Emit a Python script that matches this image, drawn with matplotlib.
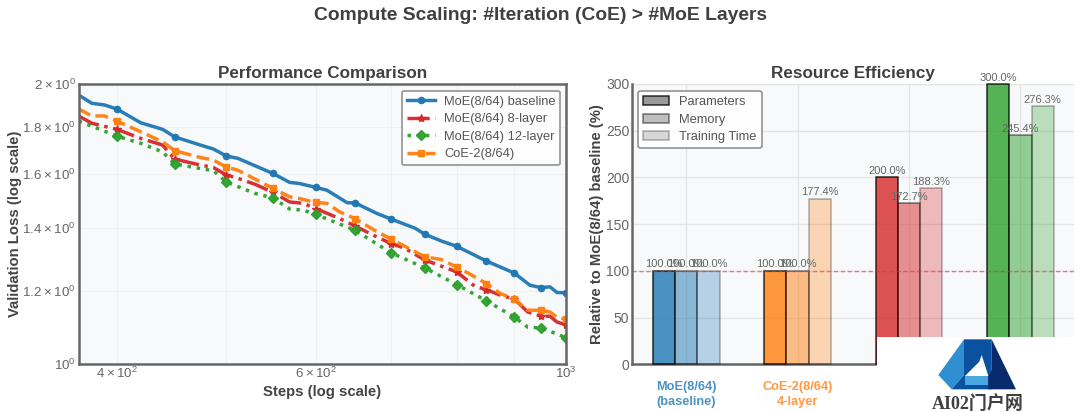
import matplotlib
matplotlib.use("Agg")
import matplotlib.pyplot as plt
from matplotlib.patches import Polygon, Rectangle, Patch
from matplotlib.ticker import NullLocator

# ---- data ----
steps_base = [370,380,390,400,420,439,450,474,487,500,512,550,569,580,600,614,640,650,680,700,735,750,776,800,850,900,929,950,968,982,1000]
loss_base = [1.946,1.907,1.899,1.880,1.817,1.788,1.755,1.720,1.703,1.674,1.664,1.603,1.568,1.564,1.549,1.538,1.491,1.491,1.452,1.432,1.400,1.379,1.356,1.339,1.291,1.253,1.216,1.209,1.211,1.194,1.194]
steps_8 = [370,380,400,420,439,450,474,487,500,512,530,550,569,585,600,630,650,680,700,720,750,800,830,850,875,900,925,950,968,982,1000]
loss_8 = [1.848,1.815,1.788,1.748,1.72,1.661,1.637,1.627,1.597,1.584,1.561,1.53,1.494,1.489,1.47,1.434,1.408,1.37,1.348,1.332,1.294,1.257,1.213,1.203,1.186,1.175,1.138,1.127,1.126,1.11,1.103]
steps_12 = [370,400,420,439,450,474,487,500,530,550,569,585,600,650,700,750,800,850,900,925,950,968,1000]
loss_12 = [1.825,1.758,1.727,1.691,1.641,1.623,1.614,1.57,1.526,1.509,1.468,1.464,1.449,1.393,1.317,1.269,1.218,1.17,1.124,1.096,1.094,1.085,1.068]
steps_coe = [370,380,390,400,420,439,450,474,487,500,512,550,569,580,600,614,630,650,680,700,750,775,800,820,850,875,900,925,950,968,982,1000]
loss_coe = [1.88,1.848,1.848,1.825,1.777,1.734,1.696,1.668,1.657,1.629,1.616,1.545,1.513,1.507,1.492,1.489,1.458,1.434,1.388,1.363,1.304,1.296,1.272,1.252,1.221,1.191,1.175,1.143,1.143,1.138,1.123,1.118]

models = ["MoE(8/64)\n(baseline)", "CoE-2(8/64)\n4-layer", "MoE(8/64)\n8-layer", "MoE(8/64)\n12-layer"]
parameters = [100.0, 100.0, 200.0, 300.0]
memory = [100.0, 100.0, 172.7, 245.4]
training_time = [100.0, 177.4, 188.3, 276.3]
metric_names = ["Parameters", "Memory", "Training Time"]

BLUE, RED, GREEN, ORANGE = "#1f77b4", "#d62728", "#2ca02c", "#ff7f0e"
plt.rcParams["font.family"] = ["Liberation Sans", "DejaVu Sans"]
W, H = 1077, 412
fig = plt.figure(figsize=(W/100, H/100), dpi=100, facecolor="white")
def axrect(x0, x1, y0, y1):
    return [x0/W, 1-y1/H, (x1-x0)/W, (y1-y0)/H]

fig.text(540.5/W, 1-15/H, "Compute Scaling: #Iteration (CoE) > #MoE Layers", ha="center", va="center",
         fontsize=13.85, fontweight="bold", color="#404040")

# ---- left panel ----
ax = fig.add_axes(axrect(78.7, 566, 84, 364.3), facecolor="#f8f9fb")
series = [
    (steps_base, loss_base, BLUE, "-", "o", "MoE(8/64) baseline", 4.5),
    (steps_8, loss_8, RED, "-.", "*", "MoE(8/64) 8-layer", 6),
    (steps_12, loss_12, GREEN, ":", "D", "MoE(8/64) 12-layer", 5),
    (steps_coe, loss_coe, ORANGE, "--", "s", "CoE-2(8/64)", 5),
]
for sx, sy, c, ls, m, lab, ms in series:
    every = [i for i, s in enumerate(sx) if s % 50 == 0]
    ax.plot(sx, sy, color=c, ls=ls, lw=2.5, marker=m, ms=ms, markevery=every, label=lab, alpha=0.95)
ax.set_xscale("log"); ax.set_yscale("log")
ax.set_xlim(370, 1000); ax.set_ylim(1, 2)
ax.xaxis.set_minor_locator(NullLocator()); ax.yaxis.set_minor_locator(NullLocator())
ax.set_xticks([400, 500, 600, 700, 800, 900, 1000])
ax.set_xticklabels([r"$\mathdefault{4\times10^{2}}$", "", r"$\mathdefault{6\times10^{2}}$", "", "", "", r"$\mathdefault{10^{3}}$"])
ax.set_yticks([1, 1.2, 1.4, 1.6, 1.8, 2])
ax.set_yticklabels([r"$\mathdefault{10^{0}}$", r"$\mathdefault{1.2\times10^{0}}$", r"$\mathdefault{1.4\times10^{0}}$",
                    r"$\mathdefault{1.6\times10^{0}}$", r"$\mathdefault{1.8\times10^{0}}$", r"$\mathdefault{2\times10^{0}}$"])
ax.tick_params(length=0, labelsize=9.6, labelcolor="#666666", pad=2)
ax.tick_params(axis="x", pad=1)
ax.grid(True, color="#dddddd", lw=0.8, alpha=0.3)
ax.set_axisbelow(True)
for s in ax.spines.values():
    s.set_color("#666666"); s.set_linewidth(1.8)
ax.set_title("Performance Comparison", fontsize=12.3, fontweight="bold", color="#404040", pad=4)
ax.set_xlabel("Steps (log scale)", fontsize=10.7, fontweight="bold", color="#444444")
ax.xaxis.set_label_coords((322-78.7)/487.3, -0.074)
ax.set_ylabel("Validation Loss (log scale)", fontsize=10.7, fontweight="bold", color="#444444")
ax.yaxis.set_label_coords((22-78.7)/487.3, 0.5)
leg = ax.legend(loc="upper right", bbox_to_anchor=(0.9885, 0.9755), borderaxespad=0, fontsize=9.3, framealpha=0.9,
                edgecolor="#888888", fancybox=True, labelspacing=0.42, handlelength=2.2, handletextpad=0.7,
                borderpad=0.38, facecolor="white")
leg.get_frame().set_linewidth(1.2)
for t in leg.get_texts():
    t.set_color("#555555")

# ---- right panel ----
ax2 = fig.add_axes(axrect(632, 1074, 84, 364.3), facecolor="#f8f9fb")
ax2.set_xlim(-0.485, 3.48); ax2.set_ylim(0, 300)
colors = [BLUE, ORANGE, RED, GREEN]
w = 0.2
alphas = [0.8, 0.5, 0.3]
for k, (vals, a) in enumerate(zip([parameters, memory, training_time], alphas)):
    for i, v in enumerate(vals):
        xp = i + (k-1)*w
        ax2.bar(xp, v, w, color=colors[i], alpha=a, edgecolor="black", linewidth=1.1, clip_on=False, zorder=3)
        ax2.text(xp, v+1.5, f"{v:.1f}%", ha="center", va="bottom", fontsize=8, color="#666666", zorder=6)
ax2.axhline(100, color="#f03030", ls=(0, (3, 2)), lw=1, alpha=0.6, zorder=4)
ax2.set_xticks(range(4)); ax2.set_xticklabels(models, fontsize=9.2, fontweight="bold", linespacing=1.3)
for lab, c in zip(ax2.get_xticklabels(), colors):
    lab.set_color(c); lab.set_alpha(0.8)
ax2.set_yticks(range(0, 301, 50))
ax2.tick_params(axis="y", length=0, labelsize=10, labelcolor="#666666", pad=2)
ax2.tick_params(axis="x", length=0, pad=12)
ax2.grid(True, color="#dddddd", lw=1, alpha=0.7)
ax2.set_axisbelow(True)
ax2.spines["top"].set_visible(False); ax2.spines["right"].set_visible(False)
for n in ("left", "bottom"):
    ax2.spines[n].set_color("#666666"); ax2.spines[n].set_linewidth(1.8)
ax2.set_title("Resource Efficiency", fontsize=12.3, fontweight="bold", color="#404040", pad=4)
ax2.set_ylabel("Relative to MoE(8/64) baseline (%)", fontsize=10.7, fontweight="bold", color="#444444")
ax2.yaxis.set_label_coords((604-632)/442, 0.5)
handles = [Patch(facecolor="gray", edgecolor="black", alpha=a, linewidth=1.1, label=n) for a, n in zip(alphas, metric_names)]
leg2 = ax2.legend(handles=handles, loc="upper left", bbox_to_anchor=(0.0136, 0.9755), borderaxespad=0, fontsize=9.3,
                  framealpha=0.9, edgecolor="#888888", fancybox=True, labelspacing=0.42, facecolor="white")
leg2.get_frame().set_linewidth(1.2)
for t in leg2.get_texts():
    t.set_color("#555555")

# ---- white corner block with site mark, as in the reference ----
def fpoly(pts, c, z):
    fig.add_artist(Polygon([((860+x/3)/W, 1-(320+y/3)/H) for x, y in pts], closed=True, fc=c, ec="none", zorder=z,
                           transform=fig.transFigure))
fig.add_artist(Rectangle((877/W, 0), (W-877)/W, (H-337)/H, fc="white", ec="none", zorder=10, transform=fig.transFigure))
fpoly([(312,58),(312,165),(275,208),(235,165)], "#2f8fd2", 11)
fpoly([(312,58),(395,58),(395,208),(275,208),(312,165)], "#0a529f", 11)
fpoly([(395,58),(468,208),(385,208),(385,170),(395,150)], "#0a2a6e", 12)
fpoly([(365,105),(385,168),(315,168),(358,125)], "white", 13)
fpoly([(315,168),(385,168),(385,195),(315,195)], "#4aa8e0", 13)
fig.text(977.5/W, 1-404.5/H, "AI02门户网", ha="center", va="center", fontsize=13, fontweight="bold", color="#404040",
         family=["Liberation Serif", "Noto Sans CJK SC"], zorder=14)

fig.savefig("out.png", dpi=100)
